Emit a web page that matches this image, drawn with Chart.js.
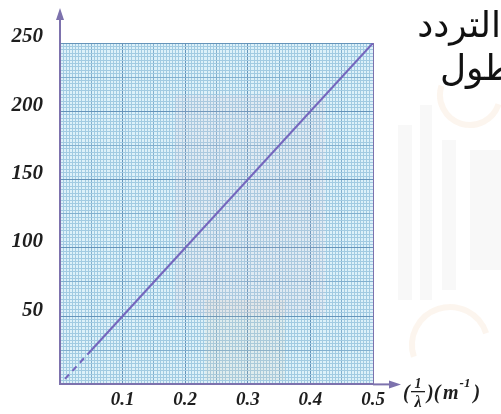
<!DOCTYPE html>
<html>
<head>
<meta charset="utf-8">
<script src="https://cdn.jsdelivr.net/npm/chart.js@4.4.1/dist/chart.umd.min.js"></script>
<style>
  html, body { margin: 0; padding: 0; background: #fff; }
  #wrap { width: 501px; height: 414px; position: relative; }
</style>
</head>
<body>
<div id="wrap"><canvas id="graph" width="501" height="414"></canvas></div>
<script>
// f against 1/λ : straight line through the origin
const dashedX = [0.008, 0.05];
const dashedY = [4, 25];
const solidX = [0.05, 0.5];
const solidY = [25, 250];

const xTickValues = [0.1, 0.2, 0.3, 0.4, 0.5];
const xTickLabels = ['0.1', '0.2', '0.3', '0.4', '0.5'];
const yTickValues = [50, 100, 150, 200, 250];
const yTickLabels = ['50', '100', '150', '200', '250'];

const X_MAX = 0.5, Y_MAX = 250;
const X_MAJOR = 0.1, Y_MAJOR = 50;
const SUBDIV = 20; // graph paper: 20 small squares per big square

const AXIS_COL = '#7d72ad';
const LINE_COL = '#7566bd';
const LABEL_FONT = 'Liberation Serif, DejaVu Serif, serif';

function toPoints(xs, ys) { return xs.map((x, i) => ({ x, y: ys[i] })); }

function level(v, major) {
  const k = Math.round(v / (major / SUBDIV));
  if (k % SUBDIV === 0) return 2;
  if (k % (SUBDIV / 2) === 0) return 1;
  return 0;
}
const gridCols = ['#a2cbe2', '#82b0cf', '#6594ba'];

function labelFor(v, values, labels) {
  const i = values.findIndex(t => Math.abs(t - v) < 1e-9);
  return i >= 0 ? labels[i] : '';
}

// light paper tint + faint watermark shapes
const paper = {
  id: 'paper',
  beforeDraw(chart) {
    const { ctx, chartArea: a } = chart;
    ctx.save();
    ctx.fillStyle = 'rgba(205,205,205,0.14)';
    [[398, 125, 14, 175], [420, 105, 12, 195], [442, 140, 14, 150], [470, 150, 31, 120]].forEach(r => ctx.fillRect(...r));
    ctx.strokeStyle = 'rgba(235,175,120,0.13)';
    ctx.lineWidth = 6;
    ctx.beginPath(); ctx.arc(450, 345, 38, Math.PI * 0.9, Math.PI * 1.9); ctx.stroke();
    ctx.beginPath(); ctx.arc(470, 95, 30, Math.PI * 0.1, Math.PI * 1.1); ctx.stroke();
    ctx.fillStyle = '#ddf1f9';
    ctx.fillRect(a.left, a.top, a.right - a.left, a.bottom - a.top);
    ctx.restore();
  },
  beforeDatasetsDraw(chart) {
    const { ctx } = chart;
    ctx.save();
    ctx.fillStyle = 'rgba(240,190,205,0.12)';
    ctx.fillRect(175, 95, 150, 220);
    ctx.fillStyle = 'rgba(250,200,150,0.10)';
    ctx.fillRect(205, 300, 80, 80);
    ctx.restore();
  }
};

// axis arrows, axis title and heading text
const extras = {
  id: 'extras',
  afterDraw(chart) {
    const { ctx, chartArea: a } = chart;
    ctx.save();
    ctx.strokeStyle = AXIS_COL;
    ctx.fillStyle = AXIS_COL;
    ctx.lineWidth = 2;
    // y axis arrow
    ctx.beginPath(); ctx.moveTo(a.left, a.top); ctx.lineTo(a.left, 16); ctx.stroke();
    ctx.beginPath(); ctx.moveTo(a.left, 8); ctx.lineTo(a.left - 4, 20); ctx.lineTo(a.left + 4, 20); ctx.closePath(); ctx.fill();
    // x axis arrow
    ctx.beginPath(); ctx.moveTo(a.right, a.bottom); ctx.lineTo(392, a.bottom); ctx.stroke();
    ctx.beginPath(); ctx.moveTo(401, a.bottom); ctx.lineTo(389, a.bottom - 4); ctx.lineTo(389, a.bottom + 4); ctx.closePath(); ctx.fill();

    // (1/λ)(m^-1)
    ctx.fillStyle = '#1e1e1e';
    ctx.textBaseline = 'alphabetic';
    ctx.textAlign = 'left';
    ctx.font = 'italic bold 20px ' + LABEL_FONT;
    ctx.fillText('(', 403, 399);
    ctx.textAlign = 'center';
    ctx.font = 'italic bold 14px ' + LABEL_FONT;
    ctx.fillText('1', 418, 388);
    ctx.fillRect(411, 391, 14, 1.3);
    ctx.font = 'italic bold 16px ' + LABEL_FONT;
    ctx.fillText('λ', 418, 407);
    ctx.textAlign = 'left';
    ctx.font = 'italic bold 20px ' + LABEL_FONT;
    ctx.fillText(')(', 427, 399);
    ctx.fillText('m', 443, 399);
    const mEnd = 443 + ctx.measureText('m').width;
    ctx.font = 'italic bold 13px ' + LABEL_FONT;
    ctx.fillText('-1', mEnd + 1, 387);
    const supEnd = mEnd + 1 + ctx.measureText('-1').width;
    ctx.font = 'italic bold 20px ' + LABEL_FONT;
    ctx.fillText(')', supEnd + 3, 399);

    // heading words at the top right
    ctx.fillStyle = '#111';
    ctx.font = '36px DejaVu Sans, sans-serif';
    ctx.textAlign = 'right';
    ctx.fillText('التردد', 501, 37);
    const cut = ctx.measureText('ال').width;
    ctx.fillText('الطول', 499 + cut, 80);
    ctx.restore();
  }
};

new Chart(document.getElementById('graph'), {
  type: 'line',
  data: {
    datasets: [
      {
        data: toPoints(dashedX, dashedY),
        borderColor: LINE_COL,
        borderWidth: 2,
        borderDash: [6, 5],
        pointRadius: 0
      },
      {
        data: toPoints(solidX, solidY),
        borderColor: LINE_COL,
        borderWidth: 2,
        pointRadius: 0
      }
    ]
  },
  options: {
    responsive: false,
    animation: false,
    events: [],
    layout: { padding: { top: 43, right: 128, left: 0, bottom: 0 } },
    plugins: { legend: { display: false }, tooltip: { enabled: false } },
    scales: {
      x: {
        type: 'linear',
        min: 0,
        max: X_MAX,
        afterFit(s) { s.height = 28; },
        border: { color: AXIS_COL, width: 2 },
        grid: {
          drawTicks: false,
          lineWidth: 1,
          color: c => Math.abs(c.tick.value - X_MAX) < 1e-9 ? AXIS_COL : gridCols[level(c.tick.value, X_MAJOR)]
        },
        ticks: {
          stepSize: X_MAJOR / SUBDIV,
          autoSkip: false,
          maxRotation: 0,
          padding: 4,
          color: '#1e1e1e',
          font: { family: LABEL_FONT, size: 19, style: 'italic', weight: 'bold' },
          callback: v => labelFor(v, xTickValues, xTickLabels)
        }
      },
      y: {
        type: 'linear',
        min: 0,
        max: Y_MAX,
        afterFit(s) { s.width = 60; },
        border: { color: AXIS_COL, width: 2 },
        grid: {
          drawTicks: false,
          lineWidth: 1,
          color: c => gridCols[level(c.tick.value, Y_MAJOR)]
        },
        ticks: {
          stepSize: Y_MAJOR / SUBDIV,
          autoSkip: false,
          padding: 17,
          labelOffset: -6,
          color: '#1e1e1e',
          font: { family: LABEL_FONT, size: 21, style: 'italic', weight: 'bold' },
          callback: v => labelFor(v, yTickValues, yTickLabels)
        }
      }
    }
  },
  plugins: [paper, extras]
});
</script>
</body>
</html>
